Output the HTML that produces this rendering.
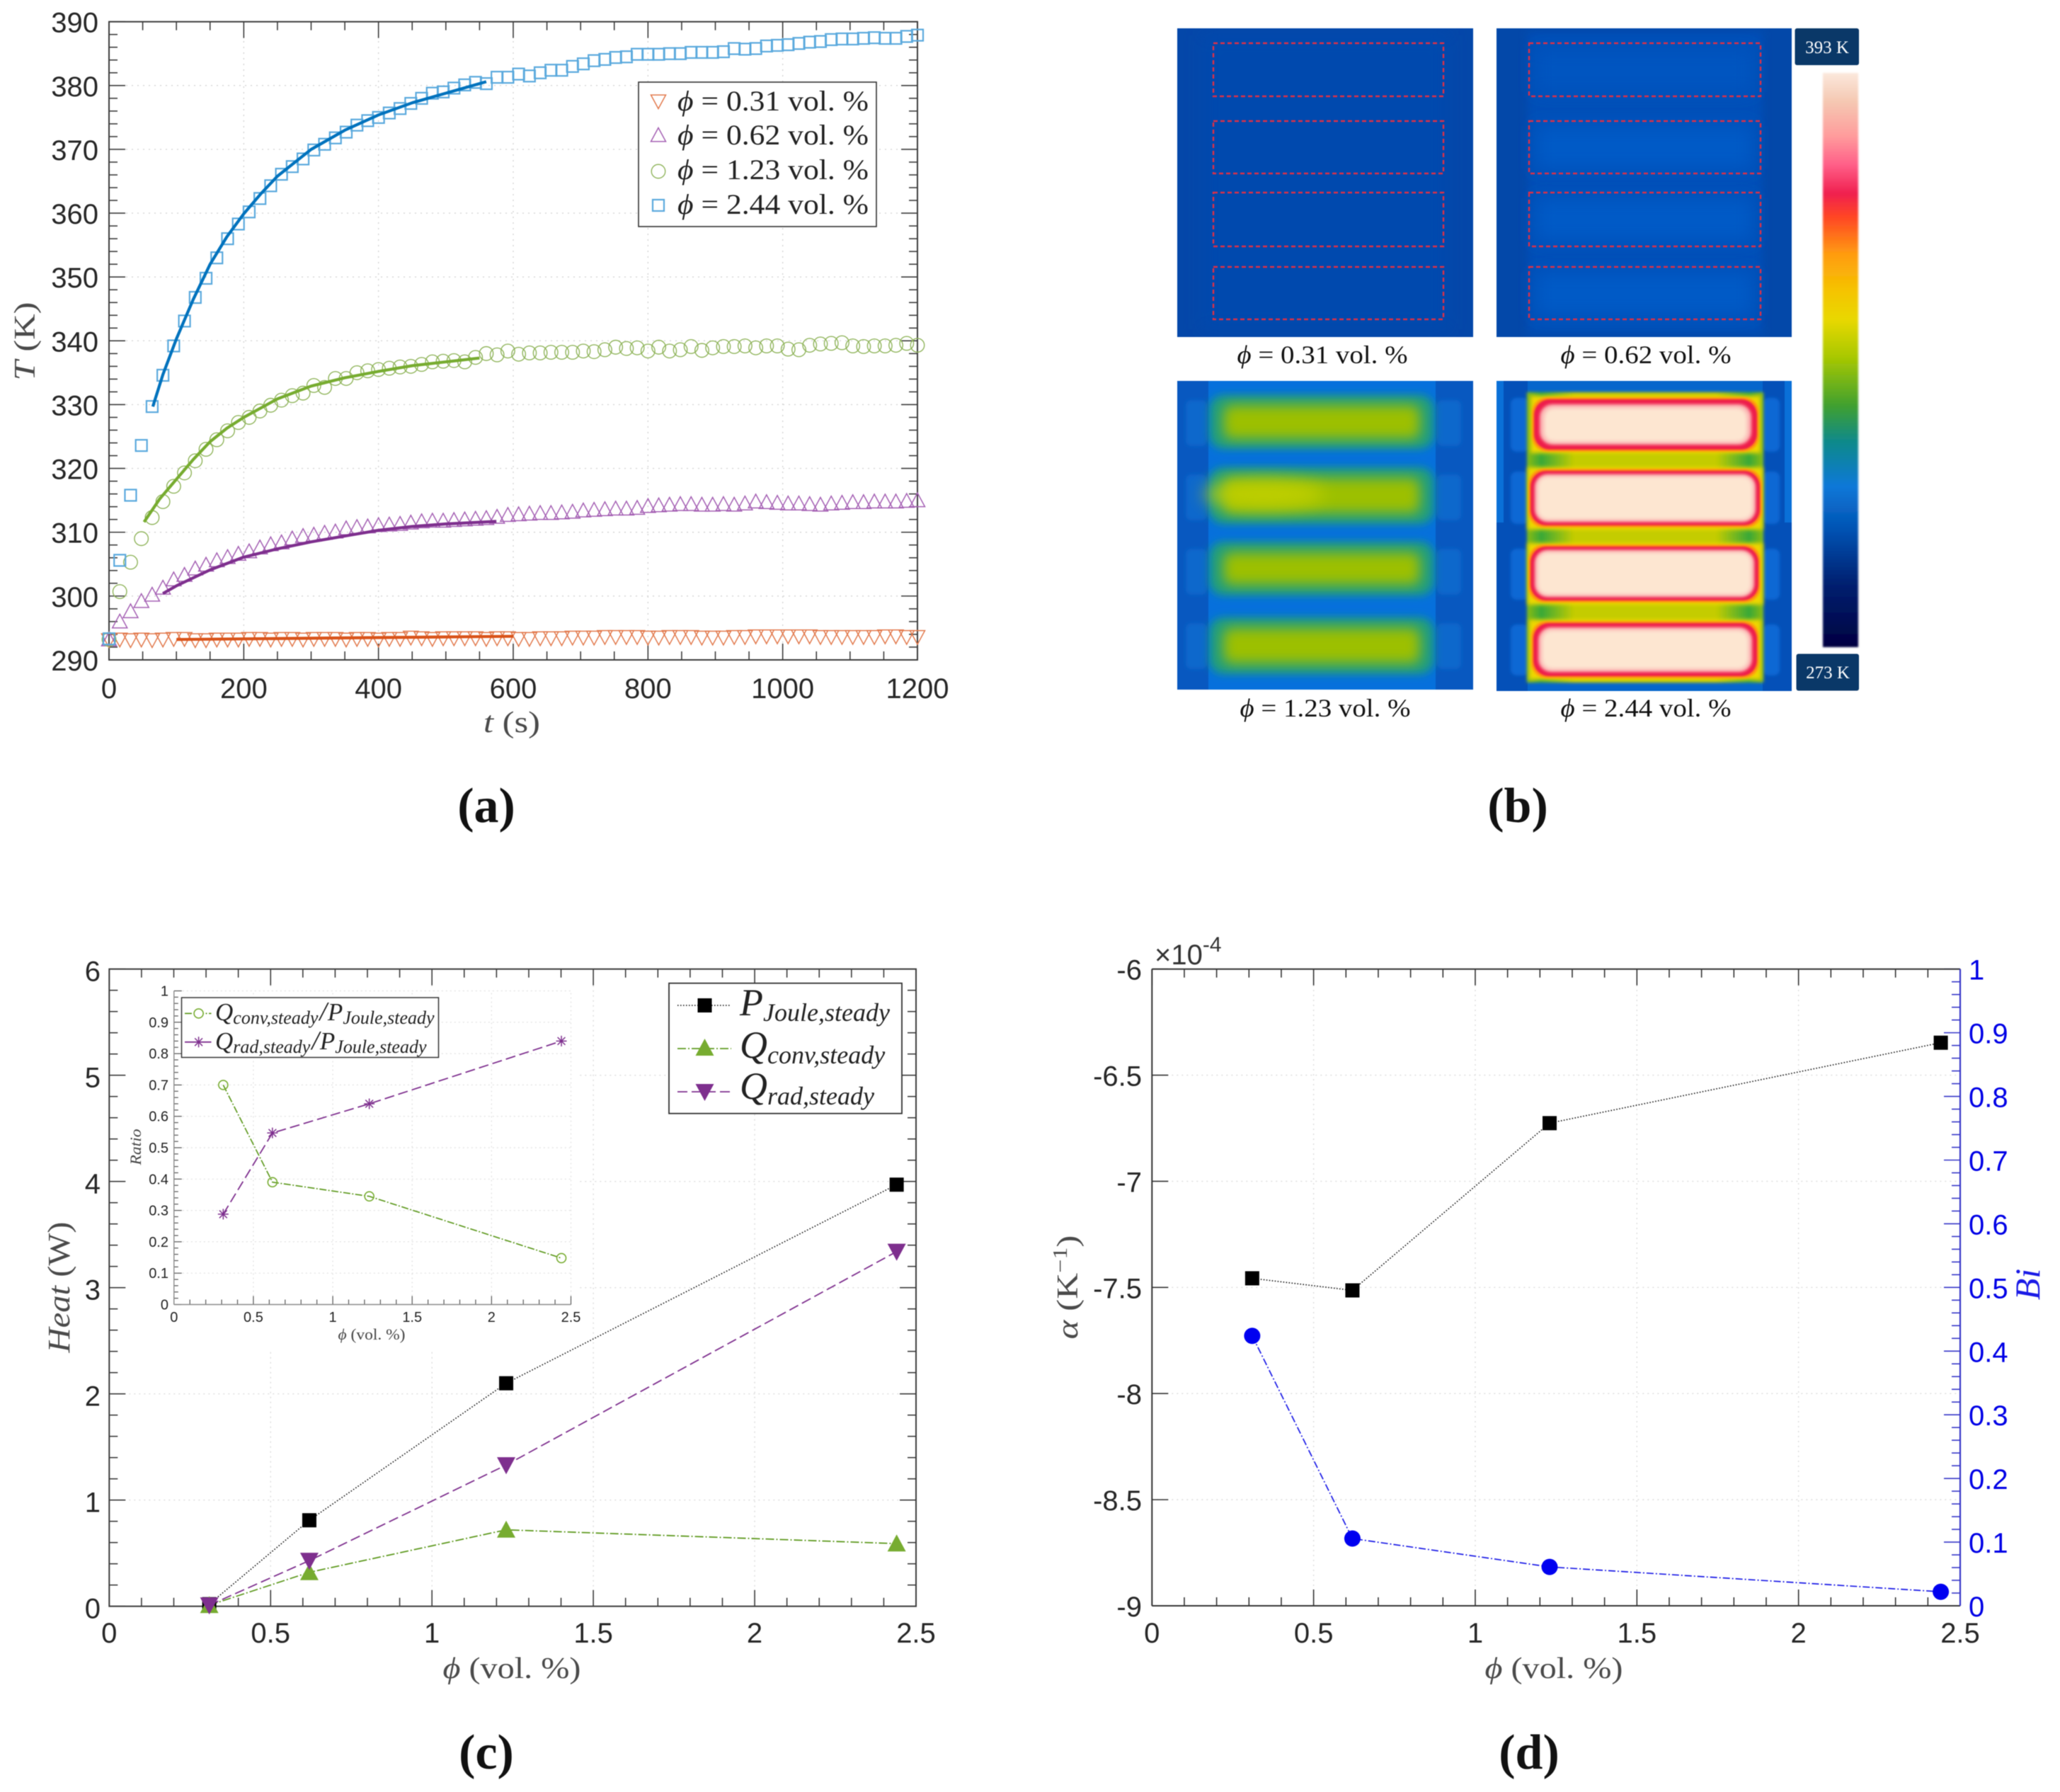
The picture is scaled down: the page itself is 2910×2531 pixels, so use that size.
<!DOCTYPE html>
<html lang="en">
<head>
<meta charset="utf-8">
<title>Thermal response figure</title>
<style>
html,body{margin:0;padding:0;background:#fff;width:2910px;height:2531px;overflow:hidden}
svg{display:block;filter:blur(.55px)}
text{font-family:"Liberation Sans",sans-serif}
.serif,.serif text{font-family:"Liberation Serif","DejaVu Serif",serif}
.mi{font-style:italic}
</style>
</head>
<body>
<svg id="fig" xmlns="http://www.w3.org/2000/svg" width="2910" height="2531" viewBox="0 0 2910 2531">
<defs>
<filter id="b1" x="-20%" y="-20%" width="140%" height="140%"><feGaussianBlur stdDeviation="1.2"/></filter>
<filter id="b2" x="-20%" y="-30%" width="140%" height="160%"><feGaussianBlur stdDeviation="2"/></filter>
<filter id="b3" x="-20%" y="-30%" width="140%" height="160%"><feGaussianBlur stdDeviation="3"/></filter>
<filter id="b6" x="-20%" y="-40%" width="140%" height="180%"><feGaussianBlur stdDeviation="6"/></filter>
<filter id="b9" x="-20%" y="-50%" width="140%" height="200%"><feGaussianBlur stdDeviation="9"/></filter>
<filter id="b10" x="-30%" y="-60%" width="160%" height="220%"><feGaussianBlur stdDeviation="12"/></filter>
<clipPath id="c1"><rect x="1663" y="40" width="418" height="436"/></clipPath>
<clipPath id="c2"><rect x="2114" y="40" width="417" height="436"/></clipPath>
<clipPath id="c3"><rect x="1663" y="538" width="418" height="436"/></clipPath>
<clipPath id="c4"><rect x="2114" y="538" width="417" height="438"/></clipPath>
<linearGradient id="cbar" x1="0" y1="0" x2="0" y2="1">
<stop offset="0" stop-color="#fbe8dc"/><stop offset=".05" stop-color="#f5c8b2"/><stop offset=".11" stop-color="#ff9c9c"/>
<stop offset=".16" stop-color="#ff5f88"/><stop offset=".21" stop-color="#f0204f"/><stop offset=".25" stop-color="#ff4525"/>
<stop offset=".316" stop-color="#ff9c10"/><stop offset=".38" stop-color="#f5c400"/><stop offset=".43" stop-color="#e8d800"/>
<stop offset=".495" stop-color="#a8c800"/><stop offset=".58" stop-color="#40a030"/><stop offset=".64" stop-color="#108a88"/>
<stop offset=".72" stop-color="#0a78d8"/><stop offset=".80" stop-color="#0450b0"/><stop offset=".89" stop-color="#002070"/>
<stop offset="1" stop-color="#000040"/>
</linearGradient>
<linearGradient id="hband" x1="0" y1="0" x2="1" y2="0">
<stop offset="0" stop-color="#8cbc10"/><stop offset=".06" stop-color="#38a838"/><stop offset=".2" stop-color="#c4cc00"/>
<stop offset=".8" stop-color="#c4cc00"/><stop offset=".94" stop-color="#38a838"/><stop offset="1" stop-color="#8cbc10"/>
</linearGradient>
</defs>

<rect x="0" y="0" width="2910" height="2531" fill="#fff"/>

<!-- Panel a -->
<g id="panelA"></g>
<g class="serif">
<text x="723" y="1034" font-size="42" fill="#4a4a4a" text-anchor="middle" textLength="80" lengthAdjust="spacingAndGlyphs"><tspan class="mi">t</tspan> (s)</text>
<text transform="translate(49,482) rotate(-90)" font-size="42" fill="#4a4a4a" text-anchor="middle" textLength="111" lengthAdjust="spacingAndGlyphs"><tspan class="mi">T</tspan> (K)</text>
<text x="687" y="1161" font-size="70" font-weight="700" fill="#111" text-anchor="middle">(a)</text>
</g>
<g id="legendA" class="serif">
<rect x="902" y="116" width="336" height="204" fill="#fff" stroke="#333" stroke-width="1.6"/>
<text x="957" y="156" font-size="40" fill="#222" textLength="270" lengthAdjust="spacingAndGlyphs"><tspan class="mi">ϕ</tspan> = 0.31 vol.  %</text>
<text x="957" y="204" font-size="40" fill="#222" textLength="270" lengthAdjust="spacingAndGlyphs"><tspan class="mi">ϕ</tspan> = 0.62 vol.  %</text>
<text x="957" y="253" font-size="40" fill="#222" textLength="270" lengthAdjust="spacingAndGlyphs"><tspan class="mi">ϕ</tspan> = 1.23 vol.  %</text>
<text x="957" y="302" font-size="40" fill="#222" textLength="270" lengthAdjust="spacingAndGlyphs"><tspan class="mi">ϕ</tspan> = 2.44 vol.  %</text>
</g>

<!-- Panel b -->
<g>
<g clip-path="url(#c1)">
<rect x="1663" y="40" width="418" height="436" fill="#0447a9"/>
<rect x="1700" y="50" width="345" height="415" fill="#044aae" filter="url(#b10)"/>
<g fill="none" stroke="#dc3048" stroke-width="2.4" stroke-dasharray="6 4">
<rect x="1714" y="61" width="325" height="75"/><rect x="1714" y="171" width="325" height="74"/><rect x="1714" y="272" width="325" height="76"/><rect x="1714" y="377" width="325" height="74"/>
</g></g>
<g clip-path="url(#c2)">
<rect x="2114" y="40" width="417" height="436" fill="#0348a9"/>
<rect x="2158" y="45" width="332" height="426" fill="#0450b8" filter="url(#b6)"/>
<rect x="2170" y="70" width="305" height="60" fill="#0554c0" filter="url(#b10)"/>
<rect x="2170" y="178" width="305" height="60" fill="#055ac6" filter="url(#b10)"/>
<rect x="2170" y="280" width="305" height="60" fill="#055ac6" filter="url(#b10)"/>
<rect x="2170" y="385" width="305" height="60" fill="#055ac6" filter="url(#b10)"/>
<g fill="none" stroke="#dc3048" stroke-width="2.4" stroke-dasharray="6 4">
<rect x="2160" y="61" width="327" height="75"/><rect x="2160" y="171" width="327" height="74"/><rect x="2160" y="272" width="327" height="76"/><rect x="2160" y="377" width="327" height="74"/>
</g></g>
<g clip-path="url(#c3)">
<rect x="1663" y="538" width="418" height="436" fill="#0858c0"/>
<rect x="1707" y="538" width="321" height="436" fill="#0670dc"/>
<g fill="#1068cc" filter="url(#b3)"><rect x="1675" y="565" width="30" height="65" rx="8"/><rect x="1675" y="670" width="30" height="65" rx="8"/><rect x="1675" y="775" width="30" height="65" rx="8"/><rect x="1675" y="880" width="30" height="65" rx="8"/><rect x="2030" y="565" width="34" height="65" rx="8"/><rect x="2030" y="670" width="34" height="65" rx="8"/><rect x="2030" y="775" width="34" height="65" rx="8"/><rect x="2030" y="880" width="34" height="65" rx="8"/></g>
<g fill="#1a9c80" filter="url(#b6)">
<rect x="1708" y="558" width="318" height="76" rx="20"/><rect x="1708" y="660" width="318" height="80" rx="20"/><rect x="1708" y="765" width="318" height="76" rx="20"/><rect x="1708" y="872" width="318" height="80" rx="20"/></g>
<g fill="#9cc000" filter="url(#b9)">
<rect x="1728" y="572" width="278" height="48" rx="10"/><rect x="1728" y="675" width="278" height="50" rx="10"/><rect x="1728" y="780" width="278" height="46" rx="10"/><rect x="1728" y="887" width="278" height="50" rx="10"/></g>
<ellipse cx="1785" cy="698" rx="85" ry="20" fill="#c6d200" opacity=".8" filter="url(#b10)"/>
</g>
<g clip-path="url(#c4)">
<rect x="2114" y="538" width="417" height="438" fill="#0450b8"/>
<rect x="2114" y="538" width="10" height="200" fill="#0a70d8"/>
<rect x="2521" y="538" width="10" height="200" fill="#0a70d8"/>
<rect x="2158" y="538" width="332" height="438" fill="#0666cc"/>
<g fill="#0868d4" filter="url(#b2)"><rect x="2134" y="562" width="26" height="76" rx="8"/><rect x="2134" y="666" width="26" height="74" rx="8"/><rect x="2134" y="775" width="26" height="72" rx="8"/><rect x="2134" y="882" width="26" height="72" rx="8"/><rect x="2490" y="562" width="24" height="76" rx="8"/><rect x="2490" y="666" width="24" height="74" rx="8"/><rect x="2490" y="775" width="24" height="72" rx="8"/><rect x="2490" y="882" width="24" height="72" rx="8"/></g>
<rect x="2157" y="554" width="334" height="410" fill="url(#hband)" filter="url(#b2)"/>
<g fill="#eed600" filter="url(#b3)"><rect x="2162" y="559" width="325" height="81"/><rect x="2158" y="660" width="332" height="88"/><rect x="2158" y="767" width="332" height="87"/><rect x="2160" y="875" width="328" height="85"/></g>
<g fill="#ff9a10" filter="url(#b1)"><rect x="2164" y="561" width="321" height="77" rx="22"/><rect x="2159" y="662" width="330" height="83" rx="22"/><rect x="2159" y="769" width="328" height="82" rx="22"/><rect x="2163" y="877" width="322" height="81" rx="22"/></g>
<g fill="#ee1c4c" filter="url(#b1)"><rect x="2167" y="564" width="315" height="71" rx="22"/><rect x="2162" y="665" width="324" height="77" rx="22"/><rect x="2162" y="772" width="322" height="76" rx="22"/><rect x="2166" y="880" width="316" height="75" rx="22"/></g>
<g fill="#fbb0b0" filter="url(#b2)"><rect x="2175" y="571" width="299" height="57" rx="18"/><rect x="2168" y="670" width="312" height="67" rx="18"/><rect x="2168" y="777" width="310" height="66" rx="18"/><rect x="2173" y="886" width="302" height="63" rx="18"/></g>
<g fill="#fde6d1" filter="url(#b3)"><rect x="2181" y="576" width="287" height="48" rx="14"/><rect x="2172" y="673" width="304" height="61" rx="14"/><rect x="2172" y="780" width="302" height="60" rx="14"/><rect x="2178" y="890" width="292" height="55" rx="14"/></g>
</g>
<g class="serif" font-size="36" fill="#111" text-anchor="middle">
<text x="1868" y="513" textLength="241" lengthAdjust="spacingAndGlyphs"><tspan class="mi">ϕ</tspan> = 0.31 vol. %</text>
<text x="2325" y="513" textLength="241" lengthAdjust="spacingAndGlyphs"><tspan class="mi">ϕ</tspan> = 0.62 vol. %</text>
<text x="1872" y="1012" textLength="241" lengthAdjust="spacingAndGlyphs"><tspan class="mi">ϕ</tspan> = 1.23 vol. %</text>
<text x="2325" y="1012" textLength="241" lengthAdjust="spacingAndGlyphs"><tspan class="mi">ϕ</tspan> = 2.44 vol. %</text>
</g>
<rect x="2575" y="103" width="50" height="811" fill="url(#cbar)" filter="url(#b1)"/>
<rect x="2535.5" y="40" width="90.5" height="52" rx="3" fill="#0a3868"/>
<text class="serif" x="2581" y="75" font-size="25" fill="#fff" text-anchor="middle">393 K</text>
<rect x="2537.5" y="923.5" width="88.5" height="52" rx="3" fill="#0a3868"/>
<text class="serif" x="2582" y="958" font-size="25" fill="#fff" text-anchor="middle">273 K</text>
<text class="serif" x="2144" y="1161" font-size="70" font-weight="700" fill="#111" text-anchor="middle">(b)</text>
</g>

<!-- Panel c -->
<g id="panelC"></g>
<g class="serif">
<text x="723" y="2370" font-size="42" fill="#4a4a4a" text-anchor="middle" textLength="195" lengthAdjust="spacingAndGlyphs"><tspan class="mi">ϕ</tspan> (vol. %)</text>
<text transform="translate(98,1818) rotate(-90)" font-size="44" fill="#4a4a4a" text-anchor="middle" textLength="185" lengthAdjust="spacingAndGlyphs"><tspan class="mi">Heat</tspan> (W)</text>
<text x="687" y="2498" font-size="70" font-weight="700" fill="#111" text-anchor="middle">(c)</text>
<text x="525" y="1892" font-size="22" fill="#444" text-anchor="middle" textLength="95" lengthAdjust="spacingAndGlyphs"><tspan class="mi">ϕ</tspan> (vol. %)</text>
<text transform="translate(199,1620) rotate(-90)" font-size="22" fill="#444" text-anchor="middle" class="mi" textLength="51" lengthAdjust="spacingAndGlyphs">Ratio</text>
</g>
<g id="legendC" class="serif">
<rect x="945" y="1388.7" width="329" height="184" fill="#fff" stroke="#333" stroke-width="1.8"/>
<text x="1045" y="1434" class="mi" fill="#222"><tspan font-size="54">P</tspan><tspan font-size="36" dy="8">Joule,steady</tspan></text>
<text x="1045" y="1494" class="mi" fill="#222"><tspan font-size="54">Q</tspan><tspan font-size="36" dy="8">conv,steady</tspan></text>
<text x="1045" y="1552" class="mi" fill="#222"><tspan font-size="54">Q</tspan><tspan font-size="36" dy="8">rad,steady</tspan></text>
</g>
<g id="insetLegend" class="serif"></g>

<!-- Panel d -->
<g id="panelD"></g>
<g class="serif">
<text x="2195" y="2370" font-size="42" fill="#4a4a4a" text-anchor="middle" textLength="195" lengthAdjust="spacingAndGlyphs"><tspan class="mi">ϕ</tspan> (vol. %)</text>
<text transform="translate(1522,1818) rotate(-90)" font-size="42" fill="#4a4a4a" text-anchor="middle" textLength="147" lengthAdjust="spacingAndGlyphs"><tspan class="mi">α</tspan> (K<tspan font-size="28" dy="-15">−1</tspan><tspan dy="15">)</tspan></text>
<text transform="translate(2881,1814) rotate(-90)" font-size="50" fill="#1a1ae6" text-anchor="middle" class="mi">Bi</text>
<text x="2160" y="2498" font-size="70" font-weight="700" fill="#111" text-anchor="middle">(d)</text>
</g>
<text x="1631" y="1362" font-size="40" fill="#333">×10<tspan font-size="30" dy="-18">-4</tspan></text>

<script>
// ---------- Panel a data ----------
const timeA = [0,16,32,48,64,80,96,112,128,144,160,176,192,208,224,240,256,272,288,304,320,336,352,368,384,400,416,432,448,464,480,496,512,528,544,560,576,592,608,624,640,656,672,688,704,720,736,752,768,784,800,816,832,848,864,880,896,912,928,944,960,976,992,1008,1024,1040,1056,1072,1088,1104,1120,1136,1152,1168,1184,1200];
const temp031 = [293.1,293.2,293.1,293.2,293.1,293.2,293.3,293.3,293.1,293.1,293.2,293.2,293.2,293.3,293.3,293.2,293.3,293.3,293.2,293.3,293.3,293.3,293.2,293.3,293.3,293.2,293.3,293.3,293.5,293.4,293.3,293.4,293.4,293.4,293.4,293.3,293.4,293.4,293.3,293.3,293.4,293.4,293.4,293.5,293.5,293.5,293.6,293.6,293.6,293.6,293.5,293.5,293.6,293.6,293.6,293.5,293.5,293.5,293.6,293.6,293.7,293.7,293.7,293.7,293.7,293.7,293.6,293.6,293.6,293.6,293.6,293.6,293.7,293.7,293.6,293.6];
const temp062 = [293.2,296,297.6,299.2,300.2,301.3,302.6,303.3,304.3,304.9,305.6,306.1,306.6,307,307.6,308.1,308.4,309,309.4,309.6,309.9,310.1,310.6,310.8,310.9,311.1,311.2,311.3,311.5,311.7,311.8,311.8,311.9,312,312.1,312.2,312.4,312.7,312.8,312.9,313,313,313.1,313.2,313.4,313.5,313.6,313.7,313.7,313.8,314.1,314.2,314.3,314.4,314.4,314.3,314.3,314.4,314.3,314.5,314.8,314.7,314.6,314.5,314.5,314.4,314.3,314.5,314.6,314.7,314.7,314.8,314.8,314.8,314.9,315];
const temp123 = [293.2,300.7,305.3,309,312.3,314.8,317.2,319.3,321.2,323,324.5,325.9,327.2,328,329,329.9,330.7,331.4,331.8,333,332.7,334.1,334.1,335,335.3,335.5,335.7,335.9,336,336.3,336.7,336.8,336.9,336.7,337.4,338,337.8,338.4,337.9,338.1,338.1,338.2,338.2,338.2,338.4,338.3,338.6,339,338.8,338.9,338.4,339,338.4,338.6,339.1,338.5,338.9,339.1,339.1,339.2,338.9,339.2,339.2,338.7,338.6,339.3,339.5,339.6,339.7,339.2,339.1,339.2,339.2,339.3,339.6,339.3];
const temp244 = [293.3,305.6,315.8,323.6,329.7,334.6,339.2,343.1,346.8,349.8,353,356,358.3,360.2,362.3,364.3,366.1,367.3,368.5,369.9,370.8,371.8,372.7,373.8,374.5,375,375.7,376.4,377.2,378,378.8,379,379.6,380.1,380.5,380.3,381.3,381.3,381.8,381.5,382,382.4,382.4,383,383.4,383.9,384.1,384.4,384.5,384.9,384.9,384.9,385,385,385.2,385.2,385.2,385.3,385.8,385.7,385.8,386.2,386.3,386.4,386.6,386.8,386.9,387.2,387.3,387.3,387.4,387.5,387.4,387.4,387.7,387.9];
const fitTime031 = [100,200,300,400,500,600];
const fitTemp031 = [293.2,293.3,293.4,293.5,293.6,293.7];
const fitTime062 = [80,100,150,200,250,300,350,400,450,500,575];
const fitTemp062 = [300.4,301.6,304.1,306.1,307.4,308.5,309.4,310.3,310.9,311.3,311.7];
const fitTime123 = [52,75,100,125,150,175,200,250,300,350,400,450,500,550];
const fitTemp123 = [311.6,315.2,318.3,321.4,324.2,326.3,328,330.9,332.9,334.2,335.2,336.1,336.7,337.3];
const fitTime244 = [65,80,100,125,150,175,200,225,250,300,350,400,450,500,560];
const fitTemp244 = [329.7,334.7,340.3,346.5,352,356.3,359.9,363,365.8,370,373,375.4,377.3,378.8,380.6];
const xTicksA = [0,200,400,600,800,1000,1200];
const yTicksA = [290,300,310,320,330,340,350,360,370,380,390];

// ---------- Panel c data ----------
const phi = [0.31,0.62,1.23,2.44];
const pJoule = [0.02,0.81,2.1,3.97];
const qConv = [0.01,0.32,0.72,0.59];
const qRad = [0.01,0.43,1.33,3.34];
const ratioConv = [0.70,0.39,0.345,0.148];
const ratioRad = [0.288,0.547,0.64,0.84];
const xTicksC = ['0','0.5','1','1.5','2','2.5'];
const yTicksC = ['0','1','2','3','4','5','6'];
const xTicksInset = ['0','0.5','1','1.5','2','2.5'];
const yTicksInset = ['0','0.1','0.2','0.3','0.4','0.5','0.6','0.7','0.8','0.9','1'];

// ---------- Panel d data ----------
const alphaVals = [-7.457,-7.514,-6.726,-6.347];
const biVals = [0.424,0.1056,0.061,0.022];
const xTicksD = ['0','0.5','1','1.5','2','2.5'];
const yTicksLeftD = ['-9','-8.5','-8','-7.5','-7','-6.5','-6'];
const yTicksRightD = ['0','0.1','0.2','0.3','0.4','0.5','0.6','0.7','0.8','0.9','1'];

// ---------- Helpers ----------
const NS = 'http://www.w3.org/2000/svg';
function add(parent, tag, attrs, txt) {
  const el = document.createElementNS(NS, tag);
  for (const k in attrs) el.setAttribute(k, attrs[k]);
  if (txt !== undefined) el.textContent = txt;
  parent.appendChild(el);
  return el;
}
function linear(d0, d1, r0, r1) { return v => r0 + (v - d0) * (r1 - r0) / (d1 - d0); }
function seg(g, x1, y1, x2, y2, color, w) {
  return add(g, 'line', {x1, y1, x2, y2, stroke: color, 'stroke-width': w});
}
function marker(g, kind, x, y, size, style) {
  const s = size / 2;
  const st = {fill: style.fill || 'none', stroke: style.stroke || 'none', 'stroke-width': style.w || 0};
  if (kind === 'square') return add(g, 'rect', Object.assign({x: x - s, y: y - s, width: size, height: size}, st));
  if (kind === 'circle') return add(g, 'circle', Object.assign({cx: x, cy: y, r: s}, st));
  if (kind === 'up') return add(g, 'polygon', Object.assign({points: `${x},${y - s} ${x + s},${y + s * 0.85} ${x - s},${y + s * 0.85}`}, st));
  if (kind === 'down') return add(g, 'polygon', Object.assign({points: `${x},${y + s} ${x + s},${y - s * 0.85} ${x - s},${y - s * 0.85}`}, st));
  const d = s * 0.72;
  return add(g, 'path', Object.assign({d: `M${x - s} ${y}H${x + s}M${x} ${y - s}V${y + s}M${x - d} ${y - d}L${x + d} ${y + d}M${x - d} ${y + d}L${x + d} ${y - d}`}, st));
}
function curve(g, xs, ys, xVals, yVals, color, w, dash) {
  const pts = xVals.map((v, i) => xs(v).toFixed(1) + ',' + ys(yVals[i]).toFixed(1)).join(' ');
  const attrs = {points: pts, fill: 'none', stroke: color, 'stroke-width': w, 'stroke-linejoin': 'round'};
  if (dash) attrs['stroke-dasharray'] = dash;
  return add(g, 'polyline', attrs);
}

// ---------- Panel a ----------
(function () {
  const g = document.getElementById('panelA');
  const x0 = 154, x1 = 1296, y0 = 932, y1 = 30.7;
  const xs = linear(0, 1200, x0, x1), ys = linear(290, 390, y0, y1);
  const axisColor = '#3c3c3c';
  xTicksA.slice(1, -1).forEach(v => {
    const gl = seg(g, xs(v), y0, xs(v), y1, '#d4d4d4', 1.4);
    gl.setAttribute('stroke-dasharray', '2 6');
    
    
  });
  yTicksA.slice(1, -1).forEach(v => {
    const gl = seg(g, x0, ys(v), x1, ys(v), '#d4d4d4', 1.4);
    gl.setAttribute('stroke-dasharray', '2 6');
    
    
  });
  for (let k = 0; k <= 24; k++) {
    const v = k * 50, len = k % 4 === 0 ? 23 : 12;
    const a = seg(g, xs(v), y0, xs(v), y0 - len, axisColor, 1.6);
    
    
    const b = seg(g, xs(v), y1, xs(v), y1 + len, axisColor, 1.6);
    
    
  }
  for (let k = 0; k <= 50; k++) {
    const v = 290 + k * 2, len = k % 5 === 0 ? 23 : 12;
    const a = seg(g, x0, ys(v), x0 + len, ys(v), axisColor, 1.6);
    
    
    const b = seg(g, x1, ys(v), x1 - len, ys(v), axisColor, 1.6);
    
    
  }
  const box = add(g, 'rect', {x: x0, y: y1, width: x1 - x0, height: y0 - y1, fill: 'none', stroke: axisColor, 'stroke-width': 2});
  
  
  xTicksA.forEach(v => {
    const t = add(g, 'text', {x: xs(v), y: 986, 'font-size': 40, fill: '#262626', 'text-anchor': 'middle'}, String(v));
    
    
  });
  yTicksA.forEach(v => {
    const t = add(g, 'text', {x: 139, y: ys(v) + 15, 'font-size': 40, fill: '#262626', 'text-anchor': 'end'}, String(v));
    
    
  });
  const styles = {
    o: {stroke: '#e2794c', w: 1.5}, p: {stroke: '#a45fb3', w: 1.5},
    g: {stroke: '#8fb45a', w: 1.4}, b: {stroke: '#5aa9dd', w: 2.2}
  };
  timeA.forEach((t, i) => {
    const m = marker(g, 'down', xs(t), ys(temp031[i]), 21, styles.o);
    
    
  });
  timeA.forEach((t, i) => {
    const m = marker(g, 'up', xs(t), ys(temp062[i]), 21, styles.p);
    
    
  });
  timeA.forEach((t, i) => {
    const m = marker(g, 'circle', xs(t), ys(temp123[i]), 19.5, styles.g);
    
    
  });
  timeA.forEach((t, i) => {
    const m = marker(g, 'square', xs(t), ys(temp244[i]), 16, styles.b);
    
    
  });
  const f1 = curve(g, xs, ys, fitTime031, fitTemp031, '#d95319', 4.2);
  
  
  const f2 = curve(g, xs, ys, fitTime062, fitTemp062, '#7e2f8e', 4.2);
  
  
  const f3 = curve(g, xs, ys, fitTime123, fitTemp123, '#77ac30', 4.2);
  
  
  const f4 = curve(g, xs, ys, fitTime244, fitTemp244, '#0072bd', 4.2);
  
  
  const lg = document.getElementById('legendA');
  const m1 = marker(lg, 'down', 930, 143, 21, styles.o);
  
  
  const m2 = marker(lg, 'up', 930, 191, 21, styles.p);
  
  
  const m3 = marker(lg, 'circle', 930, 242, 19.5, styles.g);
  
  
  const m4 = marker(lg, 'square', 930, 290, 16, styles.b);
  
  
})();

// ---------- Panel c ----------
(function () {
  const g = document.getElementById('panelC');
  const x0 = 154.3, x1 = 1294, y0 = 2268.7, y1 = 1368.7;
  const xs = linear(0, 2.5, x0, x1), ys = linear(0, 6, y0, y1);
  const axisColor = '#3c3c3c';
  xTicksC.slice(1, -1).forEach(l => {
    const gl = seg(g, xs(+l), y0, xs(+l), y1, '#dcdcdc', 1.4);
    gl.setAttribute('stroke-dasharray', '2 5');
    
    
  });
  yTicksC.slice(1, -1).forEach(l => {
    const gl = seg(g, x0, ys(+l), x1, ys(+l), '#dcdcdc', 1.4);
    gl.setAttribute('stroke-dasharray', '2 5');
    
    
  });
  const cover = add(g, 'rect', {x: 180, y: 1393, width: 635, height: 512, fill: '#fff'});
  
  
  for (let k = 0; k <= 25; k++) {
    const v = k * 0.1, len = k % 5 === 0 ? 23 : 12;
    const a = seg(g, xs(v), y0, xs(v), y0 - len, axisColor, 1.6);
    
    
    const b = seg(g, xs(v), y1, xs(v), y1 + len, axisColor, 1.6);
    
    
  }
  for (let k = 0; k <= 30; k++) {
    const v = k * 0.2, len = k % 5 === 0 ? 23 : 12;
    const a = seg(g, x0, ys(v), x0 + len, ys(v), axisColor, 1.6);
    
    
    const b = seg(g, x1, ys(v), x1 - len, ys(v), axisColor, 1.6);
    
    
  }
  const box = add(g, 'rect', {x: x0, y: y1, width: x1 - x0, height: y0 - y1, fill: 'none', stroke: axisColor, 'stroke-width': 2});
  
  
  xTicksC.forEach(l => {
    const t = add(g, 'text', {x: xs(+l), y: 2320, 'font-size': 40, fill: '#262626', 'text-anchor': 'middle'}, l);
    
    
  });
  yTicksC.forEach(l => {
    const t = add(g, 'text', {x: 142, y: ys(+l) + 17, 'font-size': 40, fill: '#262626', 'text-anchor': 'end'}, l);
    
    
  });

  const black = '#111', green = '#77ac30', purple = '#7e2f8e';
  const lp = curve(g, xs, ys, phi, pJoule, black, 1.6, '1.6 2.4');
  
  
  const lc = curve(g, xs, ys, phi, qConv, '#5f9a20', 1.8, '12 3 2 3');
  
  
  const lr = curve(g, xs, ys, phi, qRad, purple, 1.8, '14 6');
  
  
  phi.forEach((p, i) => {
    const m = marker(g, 'square', xs(p), ys(pJoule[i]), 20, {fill: '#000'});
    
    
  });
  phi.forEach((p, i) => {
    const m = marker(g, 'up', xs(p), ys(qConv[i]), 26, {fill: green});
    
    
  });
  phi.forEach((p, i) => {
    const m = marker(g, 'down', xs(p), ys(qRad[i]), 26, {fill: purple});
    
    
  });

  // legend samples
  const lg = document.getElementById('legendC');
  const s1 = seg(lg, 957, 1420, 1033, 1420, black, 1.6);
  s1.setAttribute('stroke-dasharray', '1.6 2.4');
  
  
  const s2 = seg(lg, 957, 1481, 1033, 1481, '#5f9a20', 1.8);
  s2.setAttribute('stroke-dasharray', '12 3 2 3');
  
  
  const s3 = seg(lg, 957, 1542, 1033, 1542, purple, 1.8);
  s3.setAttribute('stroke-dasharray', '14 6');
  
  
  const k1 = marker(lg, 'square', 995.5, 1420, 20, {fill: '#000'});
  
  
  const k2 = marker(lg, 'up', 995.5, 1480, 26, {fill: green});
  
  
  const k3 = marker(lg, 'down', 995.5, 1542, 26, {fill: purple});
  
  

  // ---------- inset ----------
  const ig = add(g, 'g', {});
  
  
  const ix0 = 245.8, ix1 = 806.5, iy0 = 1842.5, iy1 = 1399.5;
  const ixs = linear(0, 2.5, ix0, ix1), iys = linear(0, 1, iy0, iy1);
  const iColor = '#8a8a8a';
  xTicksInset.slice(1).forEach(l => {
    const gl = seg(ig, ixs(+l), iy0, ixs(+l), iy1, '#e0e0e0', 1.2);
    gl.setAttribute('stroke-dasharray', '2 4');
    
    
  });
  yTicksInset.slice(1).forEach(l => {
    const gl = seg(ig, ix0, iys(+l), ix1, iys(+l), '#e0e0e0', 1.2);
    gl.setAttribute('stroke-dasharray', '2 4');
    
    
  });
  for (let k = 0; k <= 25; k++) {
    const v = k * 0.1, len = k % 5 === 0 ? 12 : 7;
    const a = seg(ig, ixs(v), iy0, ixs(v), iy0 - len, '#555', 1.2);
    
    
  }
  for (let k = 0; k <= 50; k++) {
    const v = k * 0.02, len = k % 5 === 0 ? 11 : 6;
    const a = seg(ig, ix0, iys(v), ix0 + len, iys(v), '#555', 1.2);
    
    
  }
  const ax = seg(ig, ix0, iy0, ix1, iy0, iColor, 1.4);
  
  
  const ay = seg(ig, ix0, iy0, ix0, iy1, iColor, 1.4);
  
  
  xTicksInset.forEach(l => {
    const t = add(ig, 'text', {x: ixs(+l), y: 1867, 'font-size': 20, fill: '#222', 'text-anchor': 'middle'}, l);
    
    
  });
  yTicksInset.forEach(l => {
    const t = add(ig, 'text', {x: 238, y: iys(+l) + 7, 'font-size': 20, fill: '#222', 'text-anchor': 'end'}, l);
    
    
  });
  const ic = curve(ig, ixs, iys, phi, ratioConv, '#5f9a20', 1.7, '10 2.5 2 2.5');
  
  
  const ir = curve(ig, ixs, iys, phi, ratioRad, purple, 1.8, '14 6');
  
  
  phi.forEach((p, i) => {
    const m = marker(ig, 'circle', ixs(p), iys(ratioConv[i]), 13, {stroke: green, w: 1.6});
    
    
  });
  phi.forEach((p, i) => {
    const m = marker(ig, 'star', ixs(p), iys(ratioRad[i]), 15, {stroke: purple, w: 1.5});
    
    
  });

  // inset legend
  const il = document.getElementById('insetLegend');
  const ibox = add(il, 'rect', {x: 256.5, y: 1409, width: 363, height: 84.5, fill: '#fff', stroke: '#333', 'stroke-width': 1.5});
  
  
  const iS1 = seg(il, 261, 1431.4, 298.5, 1431.4, '#5f9a20', 1.7);
  iS1.setAttribute('stroke-dasharray', '10 2.5 2 2.5');
  
  
  const iS2 = seg(il, 261, 1471.8, 298.5, 1471.8, purple, 1.8);
  
  
  const iM1 = marker(il, 'circle', 280.6, 1431.4, 13, {stroke: green, w: 1.6, fill: '#fff'});
  
  
  const iM2 = marker(il, 'star', 280.6, 1471.8, 15, {stroke: purple, w: 1.5});
  
  
  const tA = add(il, 'text', {x: 304, y: 1441, class: 'mi', fill: '#222'});
  
  
  add(tA, 'tspan', {'font-size': 35}, 'Q');
  add(tA, 'tspan', {'font-size': 26, dy: 5}, 'conv,steady');
  add(tA, 'tspan', {'font-size': 38, dy: -5, dx: 2}, '/');
  add(tA, 'tspan', {'font-size': 35, dx: 1}, 'P');
  add(tA, 'tspan', {'font-size': 26, dy: 5}, 'Joule,steady');
  const tB = add(il, 'text', {x: 304, y: 1482, class: 'mi', fill: '#222'});
  
  
  add(tB, 'tspan', {'font-size': 35}, 'Q');
  add(tB, 'tspan', {'font-size': 26, dy: 5}, 'rad,steady');
  add(tB, 'tspan', {'font-size': 38, dy: -5, dx: 2}, '/');
  add(tB, 'tspan', {'font-size': 35, dx: 1}, 'P');
  add(tB, 'tspan', {'font-size': 26, dy: 5}, 'Joule,steady');
})();

// ---------- Panel d ----------
(function () {
  const g = document.getElementById('panelD');
  const x0 = 1627.3, x1 = 2769, y0 = 2268, y1 = 1368.7;
  const xs = linear(0, 2.5, x0, x1), ys = linear(-9, -6, y0, y1), yr = linear(0, 1, y0, y1);
  const axisColor = '#333';
  const blue = '#3636c8';
  xTicksD.slice(1, -1).forEach(l => {
    const gl = seg(g, xs(+l), y0, xs(+l), y1, '#dcdcdc', 1.4);
    gl.setAttribute('stroke-dasharray', '2 5');
    
    
  });
  yTicksLeftD.slice(1, -1).forEach(l => {
    const gl = seg(g, x0, ys(+l), x1, ys(+l), '#dcdcdc', 1.4);
    gl.setAttribute('stroke-dasharray', '2 5');
    
    
  });
  for (let k = 0; k <= 25; k++) {
    const v = k * 0.1, len = k % 5 === 0 ? 23 : 12;
    const a = seg(g, xs(v), y0, xs(v), y0 - len, axisColor, 1.6);
    
    
    const b = seg(g, xs(v), y1, xs(v), y1 + len, axisColor, 1.6);
    
    
  }
  yTicksLeftD.forEach(l => {
    const a = seg(g, x0, ys(+l), x0 + 23, ys(+l), axisColor, 1.6);
    
    
    const t = add(g, 'text', {x: 1613, y: ys(+l) + 15, 'font-size': 40, fill: '#262626', 'text-anchor': 'end'}, l);
    
    
  });
  for (let k = 0; k <= 50; k++) {
    const v = k * 0.02, len = k % 5 === 0 ? 23 : 12;
    const a = seg(g, x1, yr(v), x1 - len, yr(v), blue, 1.6);
    
    
  }
  const bl = seg(g, x0, y0, x1, y0, axisColor, 2);
  
  
  const tl = seg(g, x0, y1, x1, y1, axisColor, 2);
  
  
  const ll = seg(g, x0, y0, x0, y1, axisColor, 2);
  
  
  const rl = seg(g, x1, y0, x1, y1, blue, 2.2);
  
  
  xTicksD.forEach(l => {
    const t = add(g, 'text', {x: xs(+l), y: 2320, 'font-size': 40, fill: '#262626', 'text-anchor': 'middle'}, l);
    
    
  });
  yTicksRightD.forEach(l => {
    const t = add(g, 'text', {x: 2781, y: yr(+l) + 15, 'font-size': 40, fill: '#0000e6', 'text-anchor': 'start'}, l);
    
    
  });
  const la = curve(g, xs, ys, phi, alphaVals, '#111', 1.6, '1.6 2.4');
  
  
  const lb = curve(g, xs, yr, phi, biVals, '#1a1ae6', 1.7, '10 3 2 3');
  
  
  phi.forEach((p, i) => {
    const m = marker(g, 'square', xs(p), ys(alphaVals[i]), 20, {fill: '#000'});
    
    
  });
  phi.forEach((p, i) => {
    const m = marker(g, 'circle', xs(p), yr(biVals[i]), 23, {fill: '#0000f0'});
    
    
  });
})();
</script>
</svg>
</body>
</html>
